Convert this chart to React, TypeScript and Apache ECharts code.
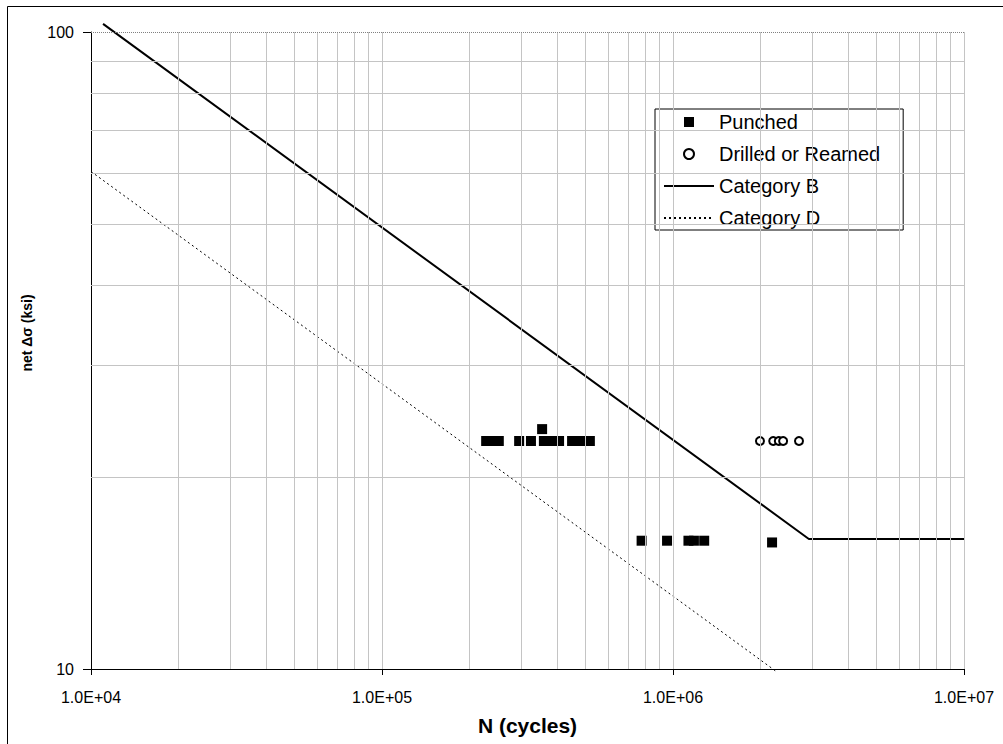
import React, { useEffect, useRef } from "react";
import * as echarts from "echarts";

// Fatigue test results: stress range vs. cycles to failure
const punchedN = [
  2.28e5, 2.41e5, 2.52e5, 2.96e5, 3.25e5, 3.55e5, 3.6e5, 3.81e5, 4.06e5, 4.5e5, 4.83e5, 5.18e5,
  7.8e5, 9.54e5, 1.13e6, 1.18e6, 1.28e6, 2.19e6,
];
const punchedS = [
  22.8, 22.8, 22.8, 22.8, 22.8, 23.8, 22.8, 22.8, 22.8, 22.8, 22.8, 22.8,
  15.9, 15.9, 15.9, 15.9, 15.9, 15.8,
];

const drilledN = [1.99e6, 2.21e6, 2.31e6, 2.39e6, 2.71e6];
const drilledS = [22.8, 22.8, 22.8, 22.8, 22.8];

// Design S-N curves
const categoryBN = [1.1e4, 2.93e6, 1e7];
const categoryBS = [103, 16, 16];
const categoryDN = [1e4, 2.25e6];
const categoryDS = [60.4, 9.93];

// Minor gridlines inside each decade
const xGridValues = [
  2e4, 3e4, 4e4, 5e4, 6e4, 7e4, 8e4, 9e4, 1e5,
  2e5, 3e5, 4e5, 5e5, 6e5, 7e5, 8e5, 9e5, 1e6,
  2e6, 3e6, 4e6, 5e6, 6e6, 7e6, 8e6, 9e6, 1e7,
];
const yGridValues = [20, 30, 40, 50, 60, 70, 80, 90];
// Dotted major gridline along the top of the plot
const yMajorGridValues = [100];

const FONT = "'Liberation Sans', Arial, sans-serif";

const zip = (a: number[], b: number[]) => a.map((v, i) => [v, b[i]]);

const sciLabel = (v: number) => {
  const [m, e] = v.toExponential(1).split("e");
  const n = parseInt(e, 10);
  return `${m}E${n < 0 ? "-" : "+"}${String(Math.abs(n)).padStart(2, "0")}`;
};

// square legend key that keeps its aspect inside the wide legend slot
const SQUARE_ICON = "path://M0,0H10V10H0Z";

export default function App() {
  const ref = useRef<HTMLDivElement>(null);

  useEffect(() => {
    if (!ref.current) return;
    const chart = echarts.init(ref.current, undefined, { renderer: "svg" });

    const gridLines = [
      ...xGridValues.map((v) => ({ xAxis: v })),
      ...yGridValues.map((v) => ({ yAxis: v })),
    ];
    const majorLines = yMajorGridValues.map((v) => ({ yAxis: v }));

    chart.setOption({
      animation: false,
      backgroundColor: "#fff",
      textStyle: { fontFamily: FONT },
      grid: { left: 91, right: 39, top: 32, bottom: 75 },
      graphic: [
        {
          type: "rect",
          shape: { x: 7.5, y: 6.5, width: 1000, height: 740 },
          style: { fill: "none", stroke: "#000", lineWidth: 1 },
          silent: true,
          z: -10,
        },
        {
          type: "text",
          x: 27,
          y: 333,
          rotation: Math.PI / 2,
          silent: true,
          style: {
            text: "net Δσ (ksi)",
            font: `bold 14px ${FONT}`,
            fill: "#000",
            textAlign: "center",
            textVerticalAlign: "middle",
          },
        },
      ],
      xAxis: {
        type: "log",
        logBase: 10,
        min: 1e4,
        max: 1e7,
        name: "N (cycles)",
        nameLocation: "middle",
        nameGap: 46,
        nameTextStyle: { fontFamily: FONT, fontSize: 21, fontWeight: "bold", color: "#000" },
        axisLine: { show: true, lineStyle: { color: "#000", width: 1 } },
        axisTick: { show: true, length: 6, lineStyle: { color: "#000" } },
        axisLabel: {
          fontFamily: FONT,
          fontSize: 16,
          color: "#000",
          margin: 20,
          formatter: sciLabel,
          showMinLabel: true,
          showMaxLabel: true,
        },
        splitLine: { show: false },
      },
      yAxis: {
        type: "log",
        logBase: 10,
        min: 10,
        max: 100,
        axisLine: { show: true, lineStyle: { color: "#000", width: 1 } },
        axisTick: { show: true, length: 8, lineStyle: { color: "#000" } },
        axisLabel: { fontFamily: FONT, fontSize: 16, color: "#000", margin: 17 },
        splitLine: { show: false },
      },
      legend: {
        orient: "vertical",
        left: 655,
        top: 109,
        padding: [3, 23, 2, 8],
        itemWidth: 50,
        itemHeight: 10,
        itemGap: 12,
        backgroundColor: "#fff",
        borderColor: "#000",
        borderWidth: 1,
        borderRadius: 0,
        textStyle: { fontFamily: FONT, fontSize: 20, color: "#000", lineHeight: 20 },
        data: [
          { name: "Punched", icon: SQUARE_ICON },
          { name: "Drilled or Reamed", icon: "emptyCircle" },
          { name: "Category B", itemStyle: { opacity: 0 } },
          { name: "Category D", itemStyle: { opacity: 0 } },
        ],
      },
      series: [
        {
          name: "grid",
          type: "line",
          data: [],
          silent: true,
          z: 1,
          markLine: {
            silent: true,
            symbol: "none",
            label: { show: false },
            lineStyle: { color: "#c4c4c4", width: 1, type: "solid" },
            emphasis: { disabled: true },
            data: gridLines,
          },
        },
        {
          name: "gridMajor",
          type: "line",
          data: [],
          silent: true,
          z: 1,
          markLine: {
            silent: true,
            symbol: "none",
            label: { show: false },
            lineStyle: { color: "#808080", width: 1, type: [1, 1] },
            emphasis: { disabled: true },
            data: majorLines,
          },
        },
        {
          name: "Category D",
          type: "line",
          data: zip(categoryDN, categoryDS),
          symbol: "none",
          clip: false,
          z: 3,
          lineStyle: { color: "#000", width: 1, type: [2, 3] },
          itemStyle: { color: "#000" },
        },
        {
          name: "Category B",
          type: "line",
          data: zip(categoryBN, categoryBS),
          symbol: "none",
          clip: false,
          z: 3,
          lineStyle: { color: "#000", width: 2, type: "solid" },
          itemStyle: { color: "#000" },
        },
        {
          name: "Punched",
          type: "scatter",
          data: zip(punchedN, punchedS),
          symbol: "rect",
          symbolSize: 10,
          z: 4,
          itemStyle: { color: "#000", opacity: 1 },
        },
        {
          name: "Drilled or Reamed",
          type: "scatter",
          data: zip(drilledN, drilledS),
          symbol: "emptyCircle",
          symbolSize: 8,
          z: 4,
          itemStyle: { color: "#000", borderColor: "#000", borderWidth: 1, opacity: 1 },
        },
      ],
    });

    return () => chart.dispose();
  }, []);

  return (
    <div
      ref={ref}
      style={{ position: "absolute", left: 0, top: 0, width: 1003, height: 744 }}
    />
  );
}
